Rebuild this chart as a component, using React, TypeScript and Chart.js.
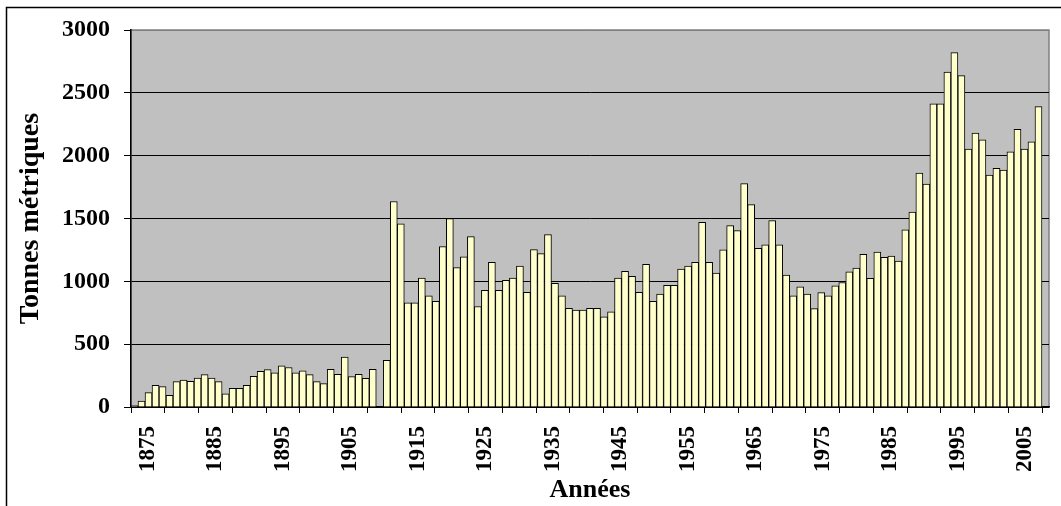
import React, { useEffect, useRef } from 'react';
import { Chart, registerables } from 'chart.js';

Chart.register(...registerables);

// Categories: one bar slot per year, 1875 .. 2005
const years: number[] = Array.from({ length: 131 }, (_, i) => 1875 + i);

// Tonnes métriques per year (null = no data)
const tonnes: (number | null)[] = [
  12, 48, 115, 173, 162, 92, 202, 215, 205, 230,
  258, 230, 202, 104, 149, 149, 173, 245, 284, 298,
  271, 327, 314, 271, 287, 258, 202, 186, 300, 260,
  398, 242, 260, 229, 300, null, 372, 1635, 1457, 829,
  829, 1026, 885, 840, 1276, 1499, 1109, 1194, 1356, 800,
  928, 1151, 928, 1008, 1026, 1122, 912, 1252, 1220, 1372,
  984, 885, 785, 771, 771, 785, 785, 718, 758, 1026,
  1080, 1040, 912, 1135, 840, 899, 968, 968, 1098, 1122,
  1151, 1470, 1151, 1066, 1250, 1443, 1404, 1778, 1611, 1263,
  1290, 1483, 1290, 1050, 885, 956, 898, 783, 910, 885,
  965, 991, 1076, 1106, 1215, 1023, 1233, 1191, 1201, 1162,
  1409, 1552, 1861, 1773, 2413, 2413, 2666, 2820, 2637, 2052,
  2180, 2126, 1845, 1900, 1885, 2031, 2209, 2052, 2110, 2390,
  null,
];

// Axis ticks
const yTickValues: number[] = [0, 500, 1000, 1500, 2000, 2500, 3000];
const xTickMarks: number[] = [
  1875, 1880, 1885, 1890, 1895, 1900, 1905, 1910, 1915, 1920, 1925, 1930, 1935,
  1940, 1945, 1950, 1955, 1960, 1965, 1970, 1975, 1980, 1985, 1990, 1995, 2000, 2005,
];
const xTickLabels: number[] = [
  1875, 1885, 1895, 1905, 1915, 1925, 1935, 1945, 1955, 1965, 1975, 1985, 1995, 2005,
];

const FONT = '"Liberation Serif", "Times New Roman", serif';

const framePlugin = {
  id: 'frameAndBackground',
  beforeDraw(chart: any) {
    const { ctx, chartArea: a } = chart;
    ctx.save();
    ctx.fillStyle = '#ffffff';
    ctx.fillRect(0, 0, chart.width, chart.height);
    ctx.strokeStyle = '#000000';
    ctx.lineWidth = 1.5;
    ctx.strokeRect(6.5, 7.5, chart.width + 50, chart.height + 50);
    ctx.fillStyle = '#C0C0C0';
    ctx.fillRect(a.left, a.top, a.right - a.left, a.bottom - a.top);
    ctx.strokeStyle = '#808080';
    ctx.lineWidth = 1.5;
    ctx.strokeRect(a.left, a.top, a.right - a.left, a.bottom - a.top);
    ctx.restore();
  },
  afterDraw(chart: any) {
    // Vertical year labels (reading bottom to top) hung under the 10-year tick marks
    const { ctx } = chart;
    const scale = chart.scales.years;
    ctx.save();
    ctx.fillStyle = '#000000';
    ctx.font = `bold 23px ${FONT}`;
    ctx.textAlign = 'right';
    ctx.textBaseline = 'middle';
    const y = scale.top + 6 + 13;
    xTickLabels.forEach((yr) => {
      const x = scale.getPixelForValue(yr);
      ctx.save();
      ctx.translate(x, y);
      ctx.rotate(-Math.PI / 2);
      ctx.fillText(String(yr), 0, 0);
      ctx.restore();
    });
    ctx.restore();
  },
};

export default function App() {
  const canvasRef = useRef<HTMLCanvasElement | null>(null);

  useEffect(() => {
    const canvas = canvasRef.current;
    if (!canvas) return;
    const chart = new Chart(canvas, {
      type: 'bar',
      data: {
        labels: years.map(String),
        datasets: [
          {
            data: tonnes,
            backgroundColor: '#FFFFCC',
            borderColor: '#000000',
            borderWidth: 1,
            borderSkipped: 'start',
            barPercentage: 1,
            categoryPercentage: 1,
          },
        ],
      },
      options: {
        responsive: false,
        animation: false,
        events: [],
        layout: { padding: { left: 0, top: 30, right: 12, bottom: 0 } },
        plugins: {
          legend: { display: false },
          tooltip: { enabled: false },
          title: { display: false },
        },
        scales: {
          x: { type: 'category', display: false, offset: true },
          years: {
            type: 'linear',
            position: 'bottom',
            min: 1875,
            max: 2006,
            afterBuildTicks: (s: any) => {
              s.ticks = xTickMarks.map((v) => ({ value: v }));
            },
            afterFit: (s: any) => {
              s.height = 99;
            },
            ticks: { display: false },
            grid: { drawOnChartArea: false, drawTicks: true, tickLength: 6, color: '#000000', lineWidth: 1 },
            border: { display: true, color: '#000000', width: 1.5 },
            title: {
              display: true,
              text: 'Années',
              color: '#000000',
              font: { family: FONT, size: 26, weight: 'bold' },
              padding: { top: 0, bottom: 0 },
            },
          },
          y: {
            type: 'linear',
            min: 0,
            max: 3000,
            afterBuildTicks: (s: any) => {
              s.ticks = yTickValues.map((v) => ({ value: v }));
            },
            afterFit: (s: any) => {
              s.width = 131;
            },
            ticks: {
              padding: 14,
              color: '#000000',
              font: { family: FONT, size: 24, weight: 'bold' },
              callback: (v: any) => String(v),
            },
            grid: {
              color: (c: any) => (c.tick && c.tick.value === 3000 ? '#808080' : '#000000'),
              tickColor: '#000000',
              tickLength: 7,
              lineWidth: 1,
            },
            border: { display: true, color: '#000000', width: 1.5 },
            title: {
              display: true,
              text: 'Tonnes métriques',
              color: '#000000',
              font: { family: FONT, size: 28, weight: 'bold' },
              padding: { top: 14, bottom: 0 },
            },
          },
        },
      },
      plugins: [framePlugin],
    });
    return () => chart.destroy();
  }, []);

  return (
    <div style={{ position: 'fixed', left: 0, top: 0, width: 1061, height: 506, background: '#fff' }}>
      <canvas ref={canvasRef} width={1061} height={506} style={{ display: 'block', width: 1061, height: 506 }} />
    </div>
  );
}
